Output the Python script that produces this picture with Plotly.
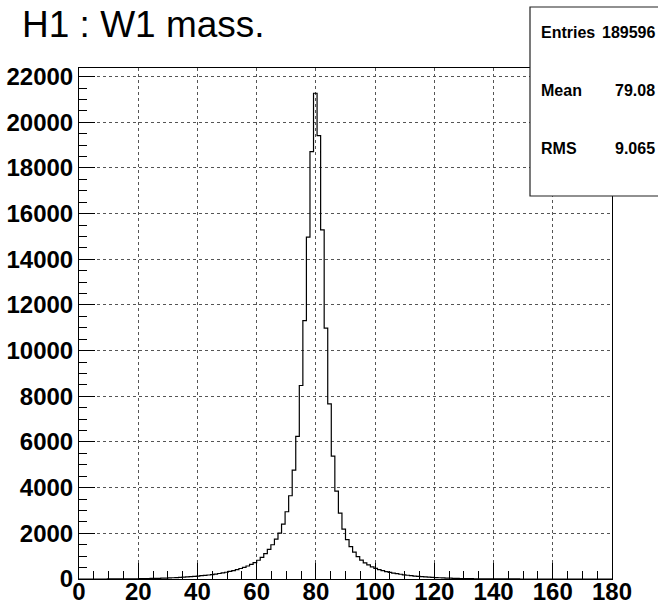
import numpy as np
import plotly.graph_objects as go

# ---- data ----
title_text = "H1 : W1 mass."
x_min, x_max, n_bins = 0.0, 180.0, 150
counts = [
    0, 0, 0, 0, 1, 1, 1, 1, 2, 2,
    2, 3, 4, 5, 6, 8, 10, 13, 16, 19,
    23, 27, 31, 36, 42, 48, 55, 62, 70, 80,
    90, 100, 112, 125, 145, 160, 175, 195, 215, 240,
    265, 295, 330, 370, 410, 460, 510, 570, 640, 720,
    820, 950, 1110, 1300, 1500, 1750, 2013, 2407, 2945, 3646,
    4770, 6241, 8473, 11317, 14967, 18713, 21270, 19414, 15287, 10985,
    7672, 5383, 3851, 2888, 2188, 1720, 1420, 1180, 980, 830,
    710, 615, 530, 465, 410, 365, 325, 290, 260, 232,
    207, 185, 165, 147, 130, 115, 102, 90, 80, 70,
    62, 54, 47, 41, 35, 30, 26, 22, 19, 16,
    14, 12, 10, 8, 7, 6, 5, 4, 4, 3,
    3, 2, 2, 2, 1, 1, 1, 1, 1, 0,
    0, 0, 0, 0, 0, 0, 0, 0, 0, 0,
    0, 0, 0, 0, 0, 0, 0, 0, 0, 0,
]
x_ticks = [0, 20, 40, 60, 80, 100, 120, 140, 160, 180]
y_ticks = [0, 2000, 4000, 6000, 8000, 10000, 12000, 14000, 16000, 18000, 20000, 22000]
stats_labels = ["Entries", "Mean", "RMS"]
stats_values = ["189596", "79.08", "9.065"]
y_max = 22376

edges = np.linspace(x_min, x_max, n_bins + 1)
ys = list(counts) + [counts[-1]]

fig = go.Figure()
fig.add_trace(go.Scatter(
    x=edges, y=ys, mode="lines", line=dict(shape="hv", color="black", width=1.2),
    hoverinfo="skip", showlegend=False,
))

W, H = 658, 605
ml, mr, mt, mb = 79, 46, 68, 26
pw, ph = W - ml - mr, H - mt - mb


def px_x(px):
    return (px - ml) / pw


def px_y(py):
    return (H - mb - py) / ph


tickfont = dict(family="Liberation Sans", size=24, color="black", weight="bold")
axis_common = dict(
    showline=True, linecolor="black", linewidth=1, mirror=True,
    ticks="inside", ticklen=16, tickwidth=1, tickcolor="black",
    showgrid=True, gridcolor="#555", griddash="dot", gridwidth=1,
    zeroline=False, tickfont=tickfont, automargin=False,
)

fig.update_layout(
    width=W, height=H,
    margin=dict(l=ml, r=mr, t=mt, b=mb, pad=0),
    paper_bgcolor="white", plot_bgcolor="white",
    xaxis=dict(range=[x_min, x_max], tickmode="array", tickvals=x_ticks,
               ticktext=[str(v) for v in x_ticks], ticklabelstandoff=-9,
               minor=dict(ticks="inside", ticklen=8, dtick=5, tickcolor="black", showgrid=False),
               **axis_common),
    yaxis=dict(range=[0, y_max], tickmode="array", tickvals=y_ticks,
               ticktext=[str(v) for v in y_ticks],
               minor=dict(ticks="inside", ticklen=8, dtick=500, tickcolor="black", showgrid=False),
               **axis_common),
    showlegend=False,
)

# stats box
fig.add_shape(type="rect", xref="paper", yref="paper",
              x0=px_x(530), x1=px_x(660), y0=px_y(196), y1=px_y(7),
              line=dict(color="#222", width=1.2), fillcolor="white", layer="above")

row_y = [33, 90, 148]
for lab, val, ry in zip(stats_labels, stats_values, row_y):
    fig.add_annotation(xref="paper", yref="paper", x=px_x(539), y=px_y(ry),
                       text=lab, showarrow=False, xanchor="left", yanchor="middle",
                       font=dict(family="Liberation Sans", size=16, color="black", weight="bold"))
    fig.add_annotation(xref="paper", yref="paper", x=px_x(657), y=px_y(ry),
                       text=val, showarrow=False, xanchor="right", yanchor="middle",
                       font=dict(family="Liberation Sans", size=16, color="black", weight="bold"))

# title
fig.add_annotation(xref="paper", yref="paper", x=px_x(20), y=px_y(24),
                   text=title_text, showarrow=False, xanchor="left", yanchor="middle",
                   font=dict(family="Liberation Sans", size=37, color="black"))

fig.write_html("out.html", config={"displayModeBar": False},
               post_script="document.body.style.margin='0';")
